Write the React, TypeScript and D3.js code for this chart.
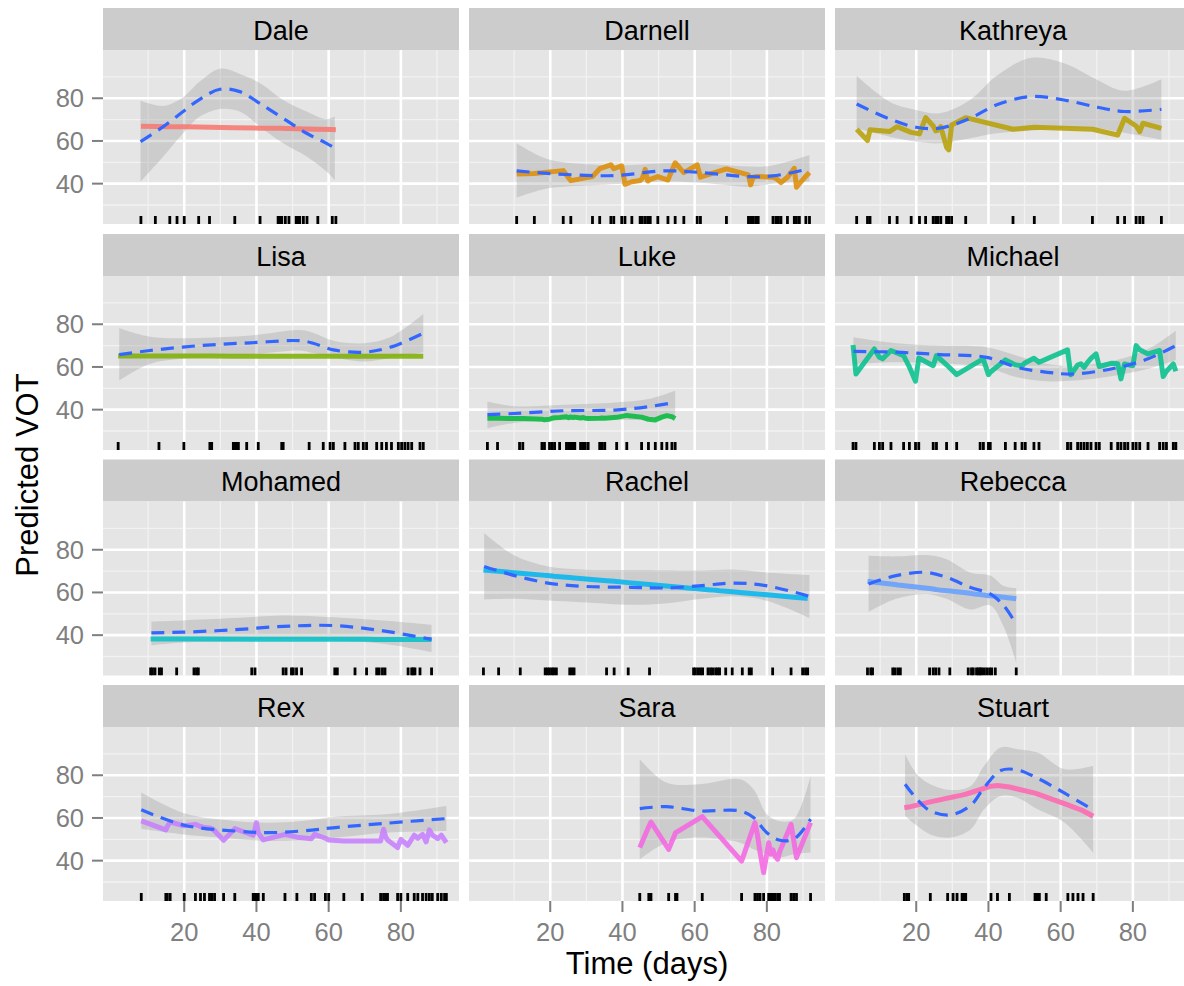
import React from "react";
import * as d3 from "d3";

// facet order and ggplot hue palette
const speakers = ["Dale", "Darnell", "Kathreya", "Lisa", "Luke", "Michael", "Mohamed", "Rachel", "Rebecca", "Rex", "Sara", "Stuart"];
const speakerColors = ["#F8766D", "#DE8C00", "#B79F00", "#7CAE00", "#00BA38", "#00C08B", "#00BFC4", "#00B4F0", "#619CFF", "#C77CFF", "#F564E3", "#FF64B0"];

const xTicks = [20, 40, 60, 80];
const xMinor = [10, 30, 50, 70, 90];
const yTicks = [40, 60, 80];
const yMinor = [30, 50, 70, 90];

// observation days (rug) + predicted VOT; smooth rows are [day, fit, lower, upper]
const daleDays = [8, 12, 16, 18, 20, 24, 27, 34, 41, 46, 46.5, 47, 48, 49, 51, 51.5, 52, 53, 54, 57, 61, 62];
const daleVot = [66.9, 66.8, 66.7, 66.6, 66.6, 66.5, 66.4, 66.2, 66.0, 65.9, 65.9, 65.9, 65.8, 65.8, 65.7, 65.7, 65.7, 65.6, 65.6, 65.5, 65.4, 65.3];
const daleSmooth = [
  [7.9, 59.7, 40.9, 78.8], [14.2, 66.7, 52.7, 76.4], [19.7, 73.8, 63.6, 80.5], [24.3, 79.5, 71.4, 87.8],
  [29.9, 84.2, 75.0, 93.8], [35.4, 83.1, 73.8, 91.4], [41.0, 77.5, 66.7, 87.0], [47.4, 70.6, 58.9, 79.2],
  [53.9, 63.6, 52.7, 73.8], [59.4, 58.9, 45.7, 70.2], [61.7, 56.6, 41.7, 71.4],
];

const darnellDays = [10.7, 15.6, 23.6, 25.7, 31.7, 33.7, 36.8, 37.6, 39.8, 40.7, 42.6, 44.9, 45.5, 46.3, 47, 47.7, 49.8, 52.6, 54.6, 57, 60.7, 61.6, 68.8, 74.9, 75.5, 76.2, 76.9, 77.6, 81.7, 82.5, 83.2, 83.9, 85.7, 87.6, 88.2, 89, 90.8, 91.8];
const darnellVot = [44.5, 44.8, 46.1, 41.4, 43.3, 47, 48.8, 47, 48.4, 39.7, 40.9, 41.5, 42.5, 46.7, 41.2, 42, 43.3, 41.7, 49.8, 45.2, 48.8, 43, 46.9, 44.1, 39.4, 43, 43.3, 43.3, 43, 42.5, 41.5, 40.5, 43, 47.2, 38.3, 40, 43.5, 45.2];
const darnellSmooth = [
  [10.7, 46, 33.4, 58.9], [19.4, 44.8, 37.8, 51.4], [33.3, 43.7, 39.4, 48.8], [39.8, 44, 40, 48.5],
  [51.8, 46, 41, 49.5], [61, 45.3, 40.5, 49.5], [75.1, 43.3, 38.6, 48], [81.6, 43.6, 40, 48.5], [91.8, 47, 41, 53.4],
];

const kathreyaDays = [3.5, 6.5, 7.2, 12.6, 14.7, 18.6, 20.9, 22.6, 24.7, 25.4, 26, 26.8, 28.4, 29, 29.8, 33.7, 46.8, 52.7, 68.8, 75.8, 77.7, 80.9, 81.9, 82.8, 87.9];
const kathreyaVot = [65.5, 60.2, 65.2, 64.4, 66.7, 64, 63.3, 70.9, 67, 64.7, 65, 66.7, 57, 55.8, 67.5, 70.9, 65.5, 66.4, 65.5, 62.8, 70.6, 67, 64.4, 68.3, 65.9];
const kathreyaSmooth = [
  [3.5, 77.3, 65.9, 90.5], [12.6, 70.3, 62, 78.4], [20, 66.4, 59.7, 74.5], [26.5, 66, 58.9, 73],
  [34.9, 70.6, 61.3, 79.2], [42.3, 76.9, 63.6, 90.5], [51.6, 80.8, 64.8, 98.8], [60.9, 79.2, 65.9, 96.4],
  [70.2, 75.8, 65.9, 88.6], [77.7, 73.8, 63.8, 83.5], [87.9, 74.8, 60.5, 88.9],
];

const lisaDays = [1.7, 13, 19.9, 27.1, 27.6, 33.6, 34, 34.5, 35, 37.3, 40.5, 47, 47.4, 54.6, 58.5, 60.4, 61.3, 64.5, 67.3, 68.2, 69.6, 70.5, 73.3, 74.7, 76, 77.4, 79.3, 80.2, 81.1, 82, 83, 85.3, 86.2];
const lisaVot = [65.1, 65.1, 65.1, 65.1, 65.1, 65, 65, 65, 65, 65, 65, 65, 65, 65, 65, 65, 65, 65, 65, 65, 65, 65, 65, 65, 65, 65, 65, 65, 65, 65, 65, 65, 65];
const lisaSmooth = [
  [2, 65.8, 53.6, 78.1], [10.5, 67.7, 61.4, 74.2], [24.3, 70, 64.5, 73.6], [38.2, 71.3, 65.8, 74.7],
  [52, 72.3, 67.7, 77.3], [55.7, 71.1, 66.5, 76], [61.3, 68, 64.5, 72.3], [69.6, 66.9, 62.5, 71.1],
  [77, 69.2, 64.2, 73.9], [86.2, 75.8, 66.9, 84.8],
];

const lukeDays = [2.6, 5.4, 11.5, 12.4, 17.7, 18.4, 19.8, 20.5, 21.2, 22.6, 24.5, 25.1, 25.7, 26.3, 26.8, 28.4, 29.1, 29.7, 30.5, 33.7, 34.4, 35.1, 38.4, 41.2, 45.3, 47.2, 49.1, 50.9, 52.3, 53.7, 54.6];
const lukeVot = [36, 36, 35.8, 35.8, 35.5, 35.3, 35.5, 36, 36.2, 36.3, 36.7, 36.2, 36.6, 36.3, 36.5, 36.1, 36.3, 36, 35.9, 36, 36.1, 36, 36.4, 37.3, 36.5, 35.5, 35.2, 36.5, 37.2, 36.7, 35.8];
const lukeSmooth = [
  [2.6, 37.7, 31.3, 43.8], [10, 38.2, 33.8, 41.6], [24, 39.5, 35.3, 42.3], [37.9, 39.8, 35.3, 43.4],
  [47.2, 41.4, 35.3, 45], [54.6, 43.4, 36.4, 48.9],
];

const michaelDays = [2.5, 3.3, 8.4, 9.8, 10.7, 13, 16.5, 18.1, 19.8, 20.7, 24.7, 25.6, 28.4, 31.2, 37.7, 38.6, 40, 40.5, 44.7, 47.4, 49.3, 50.2, 52.6, 54, 61.9, 62.8, 64.7, 65.6, 66.5, 67.4, 68.4, 69.8, 70.7, 74, 75.8, 76.7, 77.7, 78.6, 80, 80.9, 81.9, 84.2, 87.4, 88.4, 89.3, 91.2, 91.9];
const michaelVot = [70.3, 56.7, 68.4, 64.5, 63.8, 67.7, 65.3, 60, 53.3, 64.2, 60.6, 65.3, 61, 56.4, 63, 63.5, 56.4, 57.5, 63.3, 61, 60.6, 62, 64.1, 62.2, 68, 56.3, 60.9, 61.5, 59.8, 62, 64, 66.1, 60.2, 61.7, 61.5, 54.4, 61.4, 61, 60.6, 70, 68, 66.1, 67.7, 55.5, 58, 61.4, 58];
const michaelSmooth = [
  [2.6, 67.3, 61.4, 73.9], [14.4, 66.9, 62.2, 71.1], [26.5, 65.8, 61.7, 70], [39.5, 64.5, 59.8, 69.2],
  [47.9, 59.8, 55.2, 65.3], [56.3, 57.5, 53.3, 61.4], [63.7, 56.7, 53.6, 60.6], [74.9, 59.4, 55.9, 63],
  [84.2, 63.8, 59.1, 68.4], [91.9, 70, 63.3, 77],
];

const mohamedDays = [10.7, 11.2, 11.9, 13.1, 13.7, 17.9, 22.7, 23.4, 23.9, 38.7, 39.6, 47.4, 48.2, 49.7, 50.2, 51.1, 52.5, 61.7, 62.4, 67.3, 70.5, 73.3, 74, 74.9, 75.6, 82, 83, 83.4, 83.9, 85.3, 88.5];
const mohamedVot = [38.2, 38.2, 38.2, 38.2, 38.2, 38.2, 38.2, 38.2, 38.2, 38.1, 38.1, 38.1, 38.1, 38.1, 38.1, 38.1, 38.1, 38.1, 38.1, 38.1, 38.1, 38, 38, 38, 38, 38, 38, 38, 38, 38, 38];
const mohamedSmooth = [
  [10.9, 41.1, 35.2, 46.4], [19.7, 41.4, 36.5, 46.9], [33.6, 42.5, 37.1, 48], [47.4, 44.1, 38.3, 49.2],
  [61.3, 44.5, 37.5, 48.4], [75.1, 42, 36, 46.9], [88.5, 38, 32.1, 44.9],
];

const rachelDays = [1.5, 5.7, 11.7, 18.6, 19.2, 19.8, 20.5, 21, 21.7, 25.4, 26, 26.6, 35.6, 37.7, 41.6, 47.5, 59.7, 60.2, 60.9, 61.6, 62.2, 63.7, 64.4, 65, 65.8, 66.4, 66.9, 68.6, 70.4, 73.2, 75.1, 75.7, 81.6, 86.7, 89.9, 90.7, 91.3];
const rachelVot = [70.5, 69.9, 69, 68, 67.9, 67.8, 67.7, 67.6, 67.5, 67, 66.9, 66.8, 65.5, 65.2, 64.6, 63.7, 61.9, 61.8, 61.7, 61.6, 61.5, 61.3, 61.2, 61.1, 61, 60.9, 60.8, 60.6, 60.3, 59.9, 59.6, 59.5, 58.7, 57.9, 57.4, 57.3, 57.2];
const rachelSmooth = [
  [1.7, 72.2, 56.7, 87.8], [10.1, 67.9, 57, 77.3], [19.4, 64.4, 56.2, 72.2], [28.6, 62.9, 55.4, 70.8],
  [42.6, 62.4, 54.2, 70.5], [51.8, 62.1, 54.8, 70.4], [62, 63.2, 57, 70.3], [70.4, 64.4, 58.2, 70.7],
  [79.7, 63.2, 56.2, 69.4], [91.8, 58.2, 48, 68.2],
];

const rebeccaDays = [6.5, 7.4, 7.9, 13.5, 14.1, 14.9, 15.6, 23.7, 24.7, 25.4, 26.3, 29.3, 34.4, 35.3, 35.8, 36.7, 37.2, 37.7, 38.1, 38.8, 39.5, 40.3, 40.9, 41.9, 47.7];
const rebeccaVot = [65.2, 65, 64.9, 63.8, 63.7, 63.5, 63.4, 61.8, 61.6, 61.4, 61.2, 60.7, 59.7, 59.5, 59.4, 59.2, 59.1, 59, 58.9, 58.8, 58.6, 58.5, 58.4, 58.2, 57];
const rebeccaSmooth = [
  [6.8, 64, 50.8, 77.2], [14.4, 67.9, 57, 76.9], [22.8, 69.4, 59.3, 77.5], [28.4, 67.1, 57, 75.6],
  [34.9, 62.4, 52, 69.4], [40.5, 59.3, 53.9, 67.9], [44.2, 53.9, 44, 63], [47.7, 45, 27, 62],
];

const rexDays = [8.1, 14.9, 15.3, 16.1, 20, 23.1, 24.5, 25.6, 27, 27.6, 28.4, 30.9, 34, 39.1, 39.5, 40, 40.5, 41.9, 47.9, 51.2, 55.2, 56.1, 59.1, 60, 64.2, 69.3, 74.4, 75.2, 75.8, 76.3, 79.1, 80, 81.9, 83.7, 84.7, 86, 87, 87.9, 88.7, 90.2, 91.2, 92.1, 92.6];
const rexVot = [58.6, 54.4, 56, 58.1, 56.3, 57, 56, 55.5, 55.3, 55, 54, 49.5, 55, 51.9, 54, 57.8, 53, 49.7, 52.3, 51, 50.3, 52.3, 50.5, 49.7, 49.2, 49.2, 49.2, 54.7, 51, 49.7, 46.1, 50, 47.2, 51.9, 50.5, 52.3, 48.8, 54.4, 52, 50.3, 51.9, 49.7, 48.4];
const rexSmooth = [
  [8.1, 63.8, 55, 71.9], [20, 56.6, 52.3, 62.2], [34, 53.9, 50.3, 58.6], [43.3, 53.1, 49.2, 57.8],
  [52.6, 53.9, 49.7, 58.6], [61.9, 55.5, 50.8, 60.6], [75.8, 57.5, 53.1, 61.7], [92.6, 59.7, 53.9, 65.6],
];

const saraDays = [44.8, 47.3, 47.9, 52.8, 54.7, 55.1, 62.1, 73, 76.7, 77.4, 78.1, 79.1, 80.5, 81.1, 81.7, 82.3, 83, 83.5, 86.7, 87.4, 88.2, 92.1];
const saraVot = [46.1, 56, 58.1, 45.3, 53.1, 53.5, 60.6, 39.8, 57.8, 52, 44, 34.4, 48.4, 43, 45, 42, 40.6, 44, 57, 50, 41.4, 57.8];
const saraSmooth = [
  [44.8, 64.4, 40.6, 87.5], [52.1, 65.3, 48.4, 76.6], [61.4, 63.3, 50.8, 75.8], [72.6, 63.3, 48.4, 78.1],
  [76.3, 60.2, 45.3, 73.4], [80, 53.1, 43, 61.7], [83.3, 49.7, 41.4, 58.6], [87.4, 50, 43, 59.4], [92.1, 59.4, 43.8, 79.7],
];

const stuartDays = [16.7, 17.4, 17.9, 23.9, 28.7, 30.2, 31.3, 32.7, 33.2, 33.7, 40.7, 42.5, 45.8, 52.9, 53.5, 54.1, 56, 62, 63.4, 64.8, 66.2, 69];
const stuartVot = [64.8, 65, 65.1, 67.5, 69.3, 69.8, 70.2, 70.7, 70.9, 71.1, 74.9, 75.2, 74.5, 71.6, 71.3, 70.9, 69.8, 66.1, 65.2, 64.3, 63.4, 60.8];
const stuartSmooth = [
  [16.9, 75.8, 60.9, 89.8], [20.2, 68.8, 56.3, 80.5], [23.9, 63.3, 52.3, 75.8], [29.5, 61.4, 50.8, 73.1],
  [35.1, 65.9, 54.7, 75], [38.8, 74.2, 64.1, 84.4], [43.4, 82.2, 70.3, 93], [48, 82.5, 69.5, 92.2],
  [53.6, 78.6, 64.1, 90.6], [61.1, 71.6, 57.8, 82.8], [69, 63.8, 43.8, 84.4],
];

const allDays = [daleDays, darnellDays, kathreyaDays, lisaDays, lukeDays, michaelDays, mohamedDays, rachelDays, rebeccaDays, rexDays, saraDays, stuartDays];
const allVot = [daleVot, darnellVot, kathreyaVot, lisaVot, lukeVot, michaelVot, mohamedVot, rachelVot, rebeccaVot, rexVot, saraVot, stuartVot];
const allSmooth = [daleSmooth, darnellSmooth, kathreyaSmooth, lisaSmooth, lukeSmooth, michaelSmooth, mohamedSmooth, rachelSmooth, rebeccaSmooth, rexSmooth, saraSmooth, stuartSmooth];

const W = 1184;
const H = 986;
const COL_LEFT = [103, 469, 835];
const ROW_TOP = [8, 234, 459.5, 685];
const PANEL_W = 356;
const STRIP_H = 42;
const PANEL_H = 174;
const FONT = "'Liberation Sans', Arial, Helvetica, sans-serif";

const App = () => {
  const x = d3.scaleLinear().domain([-2.5, 96.1]).range([0, PANEL_W]);
  const y = d3.scaleLinear().domain([21.1, 102.6]).range([PANEL_H, 0]);

  const votLine = d3.line<[number, number]>().x((d) => x(d[0])).y((d) => y(d[1]));
  const fitLine = d3
    .line<number[]>()
    .x((d) => x(d[0]))
    .y((d) => y(d[1]))
    .curve(d3.curveCatmullRom.alpha(0.5));
  const band = d3
    .area<number[]>()
    .x((d) => x(d[0]))
    .y0((d) => y(d[2]))
    .y1((d) => y(d[3]))
    .curve(d3.curveCatmullRom.alpha(0.5));

  return (
    <svg
      width={W}
      height={H}
      style={{ position: "absolute", left: 0, top: 0, background: "#fff" }}
      fontFamily={FONT}
    >
      <defs>
        <clipPath id="panel-clip">
          <rect x={0} y={0} width={PANEL_W} height={PANEL_H} />
        </clipPath>
      </defs>
      {speakers.map((name, i) => {
        const col = i % 3;
        const row = Math.floor(i / 3);
        const pts = d3.zip(allDays[i], allVot[i]) as [number, number][];
        return (
          <g key={name} transform={`translate(${COL_LEFT[col]},${ROW_TOP[row]})`}>
            <rect width={PANEL_W} height={STRIP_H} fill="#CCCCCC" />
            <text x={PANEL_W / 2} y={31.5} textAnchor="middle" fontSize={27} fill="#000">
              {name}
            </text>
            <g transform={`translate(0,${STRIP_H})`}>
              <rect width={PANEL_W} height={PANEL_H} fill="#E5E5E5" />
              {xMinor.map((t) => (
                <line key={"xm" + t} x1={x(t)} x2={x(t)} y1={0} y2={PANEL_H} stroke="#F2F2F2" strokeWidth={1.3} />
              ))}
              {yMinor.map((t) => (
                <line key={"ym" + t} x1={0} x2={PANEL_W} y1={y(t)} y2={y(t)} stroke="#F2F2F2" strokeWidth={1.3} />
              ))}
              {xTicks.map((t) => (
                <line key={"xM" + t} x1={x(t)} x2={x(t)} y1={0} y2={PANEL_H} stroke="#fff" strokeWidth={2.6} />
              ))}
              {yTicks.map((t) => (
                <line key={"yM" + t} x1={0} x2={PANEL_W} y1={y(t)} y2={y(t)} stroke="#fff" strokeWidth={2.6} />
              ))}
              <g clipPath="url(#panel-clip)">
                <path d={band(allSmooth[i]) || ""} fill="#999999" fillOpacity={0.32} />
                <path
                  d={votLine(pts) || ""}
                  fill="none"
                  stroke={speakerColors[i]}
                  strokeOpacity={0.85}
                  strokeWidth={5}
                  strokeLinejoin="round"
                />
                <path
                  d={fitLine(allSmooth[i]) || ""}
                  fill="none"
                  stroke="#3366FF"
                  strokeWidth={3.2}
                  strokeDasharray="13,8"
                />
                {allDays[i].map((d, k) => (
                  <line key={k} x1={x(d)} x2={x(d)} y1={PANEL_H} y2={PANEL_H - 8} stroke="#000" strokeWidth={2.8} />
                ))}
              </g>
              {col === 0 &&
                yTicks.map((t) => (
                  <g key={"yt" + t} transform={`translate(0,${y(t)})`}>
                    <line x1={-11} x2={0} stroke="#7F7F7F" strokeWidth={2} />
                    <text x={-19} dy="0.35em" textAnchor="end" fontSize={25.5} fill="#7F7F7F">
                      {t}
                    </text>
                  </g>
                ))}
              {row === 3 &&
                xTicks.map((t) => (
                  <g key={"xt" + t} transform={`translate(${x(t)},${PANEL_H})`}>
                    <line y1={0} y2={11} stroke="#7F7F7F" strokeWidth={2} />
                    <text y={40} textAnchor="middle" fontSize={25.5} fill="#7F7F7F">
                      {t}
                    </text>
                  </g>
                ))}
            </g>
          </g>
        );
      })}
      <text x={647} y={974} textAnchor="middle" fontSize={31} fill="#000">
        Time (days)
      </text>
      <text transform="translate(38,475) rotate(-90)" textAnchor="middle" fontSize={31} fill="#000">
        Predicted VOT
      </text>
    </svg>
  );
};

export default App;
